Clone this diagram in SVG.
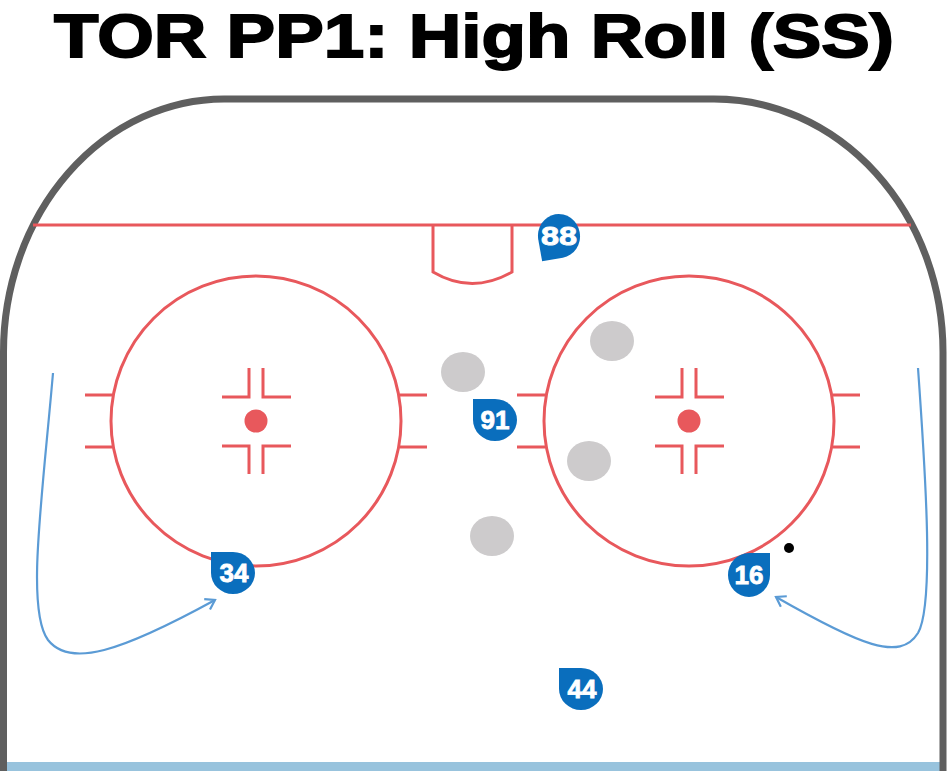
<svg xmlns="http://www.w3.org/2000/svg" width="949" height="771" viewBox="0 0 949 771">
<defs>
<style>
.red{stroke:#E8585C;stroke-width:3;fill:none}
.board{stroke:#5F5F5F;stroke-width:7;fill:none}
.puck{fill:#CDCBCC}
.badge{fill:#0A6EBD}
.num{fill:#fff;stroke:#fff;stroke-width:0.8;font-family:"Liberation Sans",Arial,sans-serif;font-weight:bold;font-size:26px;text-anchor:middle}
.route{stroke:#5B9BD5;stroke-width:2.2;fill:none}
</style>
<marker id="arr" markerWidth="14" markerHeight="14" refX="10" refY="7" orient="auto" markerUnits="userSpaceOnUse">
<polyline points="1,1 10,7 1,13" fill="none" stroke="#5B9BD5" stroke-width="2.2"/>
</marker>
<path id="tl" d="M-22,-21 H0 A22,21 0 1 1 -22,0 Z"/>
</defs>
<rect width="949" height="771" fill="#fff"/>
<text x="474" y="57" font-family="Liberation Sans,Arial,sans-serif" font-weight="bold" font-size="61" text-anchor="middle" textLength="840" lengthAdjust="spacingAndGlyphs" stroke="#000" stroke-width="1.8">TOR PP1: High Roll (SS)</text>
<g id="rink">
<rect x="4" y="762" width="940" height="9" fill="#98C3DD"/>
<path class="board" d="M3.5,771 L3.5,352 A221,253 0 0 1 224,99 L714,99 A229,253 0 0 1 943,352 L943,771"/>
<line class="red" x1="33" y1="225" x2="911" y2="225"/>
<path class="red" d="M433,225 V272 Q472,295 512,272 V225"/>
<g id="left-circle">
<circle class="red" cx="256" cy="421" r="145"/>
<circle cx="256" cy="421" r="11.5" fill="#E8585C"/>
<path class="red" d="M85,395 H112 M85,447 H112 M400,395 H427 M400,447 H427"/>
<path class="red" d="M249,368 V397 H222 M263,368 V397 H291 M249,474 V446 H222 M263,474 V446 H291"/>
</g>
<g id="right-circle">
<circle class="red" cx="689" cy="421" r="145"/>
<circle cx="689" cy="421" r="11.5" fill="#E8585C"/>
<path class="red" d="M517,395 H545 M517,447 H545 M833,395 H860 M833,447 H860"/>
<path class="red" d="M682,368 V397 H655 M696,368 V397 H724 M682,474 V446 H655 M696,474 V446 H724"/>
</g>
</g>
<g id="pucks">
<ellipse class="puck" cx="463" cy="372" rx="22" ry="20"/>
<ellipse class="puck" cx="612" cy="341" rx="22" ry="20"/>
<ellipse class="puck" cx="589" cy="461" rx="22" ry="20"/>
<ellipse class="puck" cx="492" cy="536" rx="22" ry="20"/>
</g>
<circle cx="789" cy="548" r="5" fill="#000"/>
<g id="connectors">
<path class="route" marker-end="url(#arr)" d="M53,373 C42,500 26,610 48,640 C70,668 120,652 215,600"/>
<path class="route" marker-end="url(#arr)" d="M918,368 C926,480 934,605 918,633 C900,662 860,645 776,597"/>
</g>
<g id="p88"><use href="#tl" class="badge" transform="translate(559,236) rotate(-100)"/><text class="num" x="559" y="245" textLength="36" lengthAdjust="spacingAndGlyphs">88</text></g>
<g id="p91"><use href="#tl" class="badge" transform="translate(495,420)"/><text class="num" x="495" y="429">91</text></g>
<g id="p34"><use href="#tl" class="badge" transform="translate(233,573)"/><text class="num" x="234" y="582">34</text></g>
<g id="p16"><use href="#tl" class="badge" transform="translate(749,575) rotate(90)"/><text class="num" x="749" y="584">16</text></g>
<g id="p44"><use href="#tl" class="badge" transform="translate(581,689)"/><text class="num" x="582" y="698">44</text></g>
</svg>
